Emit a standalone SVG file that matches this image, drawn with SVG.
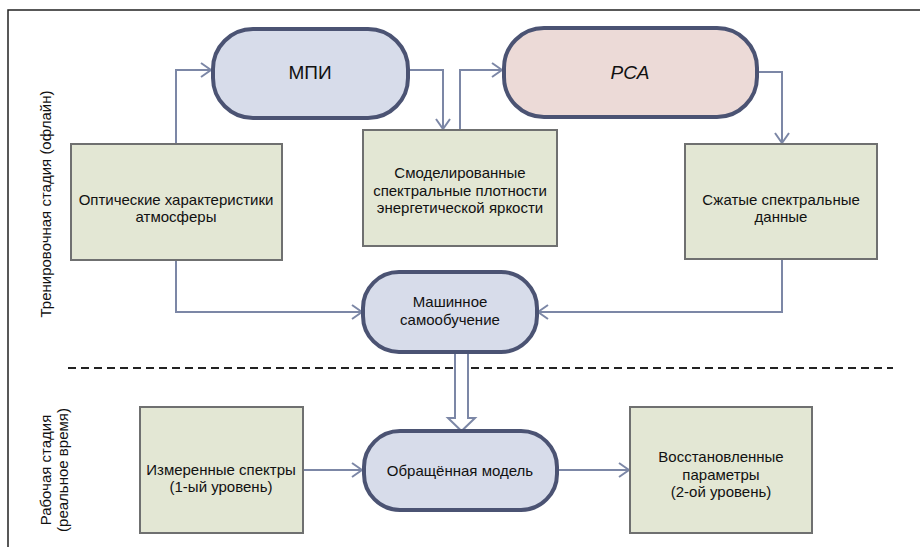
<svg xmlns="http://www.w3.org/2000/svg" width="920" height="547" viewBox="0 0 920 547">
<defs>
<style>
.t{font-family:"Liberation Sans",Arial,sans-serif;font-size:15px;fill:#111;text-anchor:middle}
.big{font-size:19px}
.box{fill:#e3e7d4;stroke:#6f7070;stroke-width:2}
.pill{fill:#d7dcea;stroke:#4b5373;stroke-width:4}
.pink{fill:#ecdad7}
.c{fill:none;stroke:#7c87a6;stroke-width:2}
</style>
<marker id="a" viewBox="0 0 12 16" refX="11" refY="8" markerWidth="12" markerHeight="16" markerUnits="userSpaceOnUse" orient="auto">
<path d="M1,1 L11,8 L1,15" fill="none" stroke="#7c87a6" stroke-width="2"/>
</marker>
</defs>
<rect x="8" y="10" width="916" height="542" fill="#fff" stroke="#222" stroke-width="1.5"/>
<g id="labels">
<text class="t" transform="translate(51,204) rotate(-90)">Тренировочная стадия (офлайн)</text>
<text class="t" transform="translate(51,470) rotate(-90)">Рабочая стадия</text>
<text class="t" transform="translate(68,470) rotate(-90)">(реальное время)</text>
</g>
<line x1="68" y1="368" x2="893" y2="368" stroke="#222" stroke-width="2" stroke-dasharray="8,5"/>
<g id="connectors">
<polyline class="c" points="176,144 176,70 211,70" marker-end="url(#a)"/>
<polyline class="c" points="408,70 443,70 443,129" marker-end="url(#a)"/>
<polyline class="c" points="460,130 460,70 502,70" marker-end="url(#a)"/>
<polyline class="c" points="757,72 782,72 782,143" marker-end="url(#a)"/>
<polyline class="c" points="176,260 176,312 362,312" marker-end="url(#a)"/>
<polyline class="c" points="782,259 782,312 538,312" marker-end="url(#a)"/>
<polyline class="c" points="303,470 362,470" marker-end="url(#a)"/>
<polyline class="c" points="557,470 629,470" marker-end="url(#a)"/>
<path d="M455,353 L455,418 L448,418 L461.5,431 L475,418 L468,418 L468,353" fill="#fff" stroke="#7c87a6" stroke-width="2"/>
</g>
<g id="mpi">
<rect class="pill" x="213" y="29" width="195" height="89" rx="40"/>
<text class="t big" x="310" y="79">МПИ</text>
</g>
<g id="pca">
<rect class="pill pink" x="504" y="28" width="253" height="89" rx="40"/>
<text class="t big" x="630" y="79" font-style="italic">PCA</text>
</g>
<g id="optical">
<rect class="box" x="71" y="144" width="211" height="116"/>
<text class="t" x="176" y="205">Оптические характеристики</text>
<text class="t" x="176" y="222">атмосферы</text>
</g>
<g id="modeled">
<rect class="box" x="363" y="130" width="194" height="116"/>
<text class="t" x="460" y="178">Смоделированные</text>
<text class="t" x="460" y="196">спектральные плотности</text>
<text class="t" x="460" y="213">энергетической яркости</text>
</g>
<g id="compressed">
<rect class="box" x="685" y="144" width="192" height="115"/>
<text class="t" x="781" y="205">Сжатые спектральные</text>
<text class="t" x="781" y="222">данные</text>
</g>
<g id="ml">
<rect class="pill" x="363" y="272" width="174" height="80" rx="36"/>
<text class="t" x="450" y="307">Машинное</text>
<text class="t" x="450" y="325">самообучение</text>
</g>
<g id="measured">
<rect class="box" x="140" y="407" width="163" height="126"/>
<text class="t" x="221" y="475">Измеренные спектры</text>
<text class="t" x="221" y="492">(1-ый уровень)</text>
</g>
<g id="inverse">
<rect class="pill" x="364" y="431" width="193" height="79" rx="36"/>
<text class="t" x="460" y="476">Обращённая модель</text>
</g>
<g id="restored">
<rect class="box" x="630" y="407" width="182" height="126"/>
<text class="t" x="721" y="462">Восстановленные</text>
<text class="t" x="721" y="480">параметры</text>
<text class="t" x="721" y="497">(2-ой уровень)</text>
</g>
</svg>
